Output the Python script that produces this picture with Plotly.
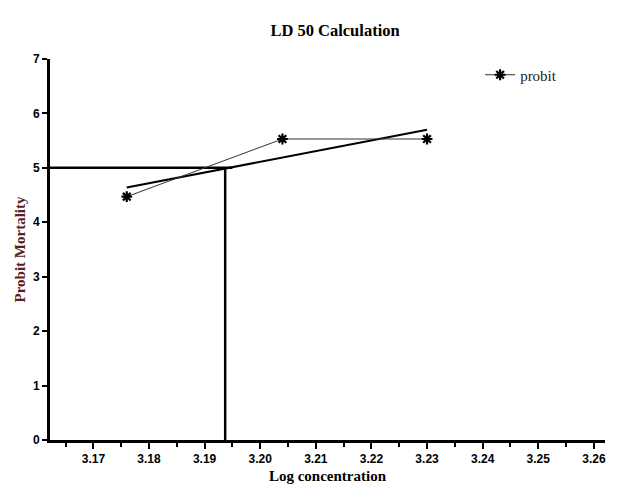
import plotly.graph_objects as go

log_conc = [3.176, 3.204, 3.230]
probit = [4.47, 5.53, 5.53]
fit_x = [3.176, 3.230]
fit_y = [4.64, 5.70]
ld50_x = 3.1937
ld50_y = 5.0
x_range = [3.1622, 3.262]
y_range = [0, 7]
x_ticks = [3.17, 3.18, 3.19, 3.20, 3.21, 3.22, 3.23, 3.24, 3.25, 3.26]
y_ticks = [0, 1, 2, 3, 4, 5, 6, 7]

fig = go.Figure()
# LD50 guide lines
fig.add_trace(go.Scatter(x=[x_range[0], 3.195], y=[ld50_y, ld50_y], mode="lines",
                         line=dict(color="black", width=2.5), showlegend=False, hoverinfo="skip"))
fig.add_trace(go.Scatter(x=[ld50_x, ld50_x], y=[0, ld50_y], mode="lines",
                         line=dict(color="black", width=2.5), showlegend=False, hoverinfo="skip"))
# regression line
fig.add_trace(go.Scatter(x=fit_x, y=fit_y, mode="lines",
                         line=dict(color="black", width=2), showlegend=False))
# data
fig.add_trace(go.Scatter(x=log_conc, y=probit, mode="lines+markers", name="probit",
                         line=dict(color="#333333", width=1),
                         marker=dict(symbol="asterisk-open", size=9, color="black",
                                     line=dict(color="black", width=2.2))))

# page has an 8px body margin, so the figure is 8px smaller and shifted
fig.update_layout(
    width=617, height=476,
    margin=dict(l=42, r=20, t=51, b=44),
    paper_bgcolor="white", plot_bgcolor="white",
    title=dict(text="<b>LD 50 Calculation</b>", x=0.53, xanchor="center", y=0.954, yanchor="middle",
               font=dict(family="Liberation Serif", size=16.5, color="black")),
    legend=dict(x=0.775, y=0.958, xanchor="left", yanchor="middle", bgcolor="rgba(0,0,0,0)",
                font=dict(family="Liberation Serif", size=15, color="#1a1a2a")),
    showlegend=True,
)
fig.update_xaxes(range=x_range, tickvals=x_ticks, ticktext=[f"{v:.2f}" for v in x_ticks],
                 automargin=False,
                 showgrid=False, zeroline=False, showline=True, linecolor="black", linewidth=3,
                 ticks="outside", ticklen=6, tickwidth=2, tickcolor="black",
                 minor=dict(dtick=0.01, tick0=3.165, ticks="outside", ticklen=4, tickwidth=2, tickcolor="black", showgrid=False),
                 tickfont=dict(family="Liberation Sans", size=12, color="black", weight="bold"),
                 title=dict(text="<b>Log concentration</b>", standoff=6,
                            font=dict(family="Liberation Serif", size=15, color="black")))
fig.update_yaxes(range=y_range, tickvals=y_ticks, showgrid=False, zeroline=False,
                 automargin=False,
                 showline=True, linecolor="black", linewidth=3,
                 ticks="outside", ticklen=5, tickwidth=2, tickcolor="black",
                 tickfont=dict(family="Liberation Sans", size=12, color="black", weight="bold"),
                 title=dict(text="<b>Probit Mortality</b>", standoff=4,
                            font=dict(family="Liberation Serif", size=15, color="#5a2020")))

fig.write_html("out.html")
